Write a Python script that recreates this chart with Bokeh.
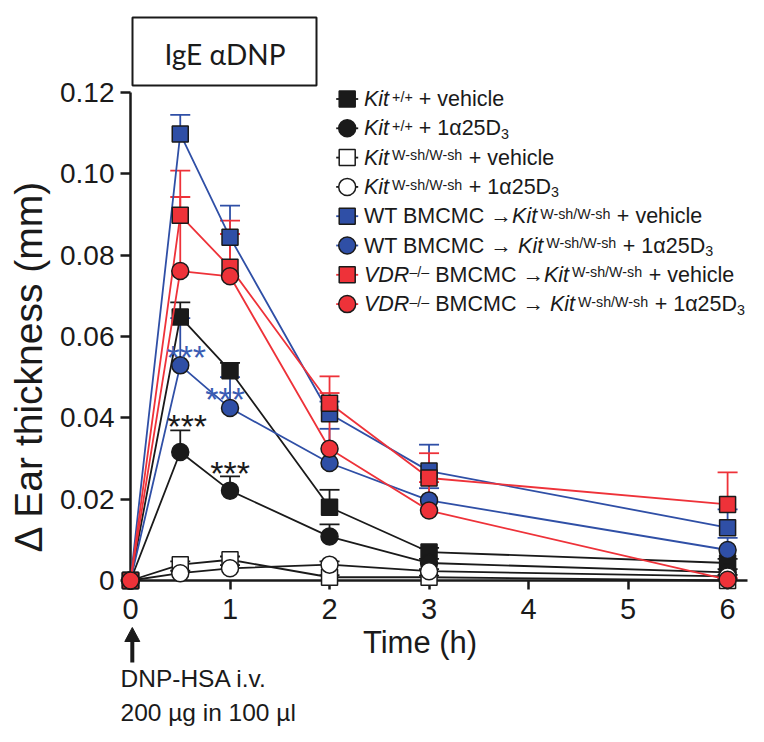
import math
from bokeh.plotting import figure
from bokeh.models import (FixedTicker, Whisker, TeeHead, ColumnDataSource, Range1d)
from bokeh.core.properties import value
from bokeh.embed import file_html
from bokeh.resources import INLINE

# ---------------- data ----------------
time_h = [0, 0.5, 1, 2, 3, 6]

kit_vehicle = [0, 0.0648, 0.0516, 0.0180, 0.0070, 0.0043]
kit_vehicle_sem = [0, 0.0036, 0.0019, 0.0043, 0.0010, 0.0010]
kit_d3 = [0, 0.0316, 0.0221, 0.0108, 0.0043, 0.0020]
kit_d3_sem = [0, 0.0053, 0.0035, 0.0030, 0.0010, 0.0008]
wsh_vehicle = [0, 0.0039, 0.0051, 0.0008, 0.0008, 0.0000]
wsh_vehicle_sem = [0, 0.0008, 0.0008, 0.0005, 0.0004, 0.0004]
wsh_d3 = [0, 0.0018, 0.0030, 0.0039, 0.0023, 0.0010]
wsh_d3_sem = [0, 0.0006, 0.0008, 0.0008, 0.0005, 0.0004]
wt_vehicle = [0, 0.1098, 0.0844, 0.0410, 0.0269, 0.0130]
wt_vehicle_sem = [0, 0.0047, 0.0078, 0.0030, 0.0065, 0.0045]
wt_d3 = [0, 0.0529, 0.0424, 0.0289, 0.0197, 0.0075]
wt_d3_sem = [0, 0.0116, 0.0076, 0.0084, 0.0030, 0.0030]
vdr_vehicle = [0, 0.0898, 0.0770, 0.0436, 0.0252, 0.0187]
vdr_vehicle_sem = [0, 0.0110, 0.0115, 0.0066, 0.0061, 0.0079]
vdr_d3 = [0, 0.0761, 0.0748, 0.0324, 0.0172, 0.0002]
vdr_d3_sem = [0, 0.0182, 0.0104, 0.0137, 0.0070, 0.0005]

x_ticks = [0, 1, 2, 3, 4, 5, 6]
x_tick_labels = ["0", "1", "2", "3", "4", "5", "6"]
y_ticks = [0, 0.02, 0.04, 0.06, 0.08, 0.10, 0.12]
y_tick_labels = ["0", "0.02", "0.04", "0.06", "0.08", "0.10", "0.12"]

# legend texts: (text, italic, kind) kind: n = normal, sup, sub
legend_1 = [("Kit", True, "n"), ("+/+", False, "sup"), (" + vehicle", False, "n")]
legend_2 = [("Kit", True, "n"), ("+/+", False, "sup"), (" + 1α25D", False, "n"), ("3", False, "sub")]
legend_3 = [("Kit", True, "n"), ("W-sh/W-sh", False, "sup"), (" + vehicle", False, "n")]
legend_4 = [("Kit", True, "n"), ("W-sh/W-sh", False, "sup"), (" + 1α25D", False, "n"), ("3", False, "sub")]
legend_5 = [("WT BMCMC →", False, "n"), ("Kit", True, "n"), ("W-sh/W-sh", False, "sup"), (" + vehicle", False, "n")]
legend_6 = [("WT BMCMC → ", False, "n"), ("Kit", True, "n"), ("W-sh/W-sh", False, "sup"),
            (" + 1α25D", False, "n"), ("3", False, "sub")]
legend_7 = [("VDR", True, "n"), ("–/–", False, "sup"), (" BMCMC →", False, "n"), ("Kit", True, "n"),
            ("W-sh/W-sh", False, "sup"), (" + vehicle", False, "n")]
legend_8 = [("VDR", True, "n"), ("–/–", False, "sup"), (" BMCMC → ", False, "n"), ("Kit", True, "n"),
            ("W-sh/W-sh", False, "sup"), (" + 1α25D", False, "n"), ("3", False, "sub")]

title_text = "IgE αDNP"
y_label = "Δ Ear thickness (mm)"
x_label = "Time (h)"
note_1 = "DNP-HSA i.v."
note_2 = "200 µg in 100 µl"
stars_text = "***"

# ---------------- styles ----------------
BLACK = "#1a1a1a"
BLUE = "#2f4fa6"
RED = "#ee3239"
BLUE_STAR = "#3a5cb4"
FONT = "Liberation Sans"

series = [
    dict(v=kit_vehicle, e=kit_vehicle_sem, marker="square", fill=BLACK, line=BLACK, leg=legend_1),
    dict(v=kit_d3, e=kit_d3_sem, marker="circle", fill=BLACK, line=BLACK, leg=legend_2),
    dict(v=wsh_vehicle, e=wsh_vehicle_sem, marker="square", fill="white", line=BLACK, leg=legend_3),
    dict(v=wsh_d3, e=wsh_d3_sem, marker="circle", fill="white", line=BLACK, leg=legend_4),
    dict(v=wt_vehicle, e=wt_vehicle_sem, marker="square", fill=BLUE, line=BLUE, leg=legend_5),
    dict(v=wt_d3, e=wt_d3_sem, marker="circle", fill=BLUE, line=BLUE, leg=legend_6),
    dict(v=vdr_vehicle, e=vdr_vehicle_sem, marker="square", fill=RED, line=RED, leg=legend_7),
    dict(v=vdr_d3, e=vdr_d3_sem, marker="circle", fill=RED, line=RED, leg=legend_8),
]

# ---------------- geometry (pixels of the page) ----------------
FIG_W, FIG_H = 760, 740
B_L, B_T, B_R, B_B = 130, 92, 13, 160
X_MAX, Y_MAX = 6.2, 0.12
FRAME_W = FIG_W - B_L - B_R
FRAME_H = FIG_H - B_T - B_B
FRAME_LEFT = B_L
FRAME_BOTTOM = B_T + FRAME_H


def xd(px):
    return (px - FRAME_LEFT) * X_MAX / FRAME_W


def yd(py):
    return (FRAME_BOTTOM - py) * Y_MAX / FRAME_H


p = figure(width=FIG_W, height=FIG_H, output_backend="svg", toolbar_location=None,
           x_range=Range1d(0, X_MAX), y_range=Range1d(0, Y_MAX),
           min_border_left=B_L, min_border_top=B_T, min_border_right=B_R, min_border_bottom=B_B)
p.outline_line_color = None
p.xgrid.visible = False
p.ygrid.visible = False
p.background_fill_color = "white"
p.border_fill_color = "white"

for ax in (p.xaxis[0], p.yaxis[0]):
    ax.axis_line_width = 2.5
    ax.axis_line_color = BLACK
    ax.major_tick_line_width = 2.5
    ax.major_tick_line_color = BLACK
    ax.major_tick_in = 0
    ax.minor_tick_line_color = None
    ax.major_label_text_font = FONT
    ax.major_label_text_color = BLACK

p.xaxis[0].ticker = FixedTicker(ticks=x_ticks)
p.xaxis[0].major_label_overrides = {t: s for t, s in zip(x_ticks, x_tick_labels)}
p.xaxis[0].major_tick_out = 9
p.xaxis[0].major_label_standoff = 9
p.xaxis[0].major_label_text_font_size = "29px"

p.yaxis[0].ticker = FixedTicker(ticks=y_ticks)
p.yaxis[0].major_label_overrides = {t: s for t, s in zip(y_ticks, y_tick_labels)}
p.yaxis[0].major_tick_out = 10
p.yaxis[0].major_label_standoff = 6
p.yaxis[0].major_label_text_font_size = "28px"

# ---------------- error bars, lines, markers ----------------
for s in series:
    idx = [i for i, e in enumerate(s["e"]) if e > 0]
    src = ColumnDataSource(dict(t=[time_h[i] for i in idx],
                                lo=[s["v"][i] for i in idx],
                                hi=[s["v"][i] + s["e"][i] for i in idx]))
    w = Whisker(source=src, base="t", upper="hi", lower="lo", dimension="height",
                line_color=s["line"], line_width=1.8,
                upper_head=TeeHead(size=20, line_color=s["line"], line_width=1.8),
                lower_head=None)
    p.add_layout(w)

for s in series:
    p.line(time_h, s["v"], line_color=s["line"], line_width=1.8, level="overlay")
    size = 16 if s["marker"] == "square" else 17
    p.scatter(time_h, s["v"], marker=s["marker"], size=size, fill_color=s["fill"],
              line_color=BLACK, line_width=1.5, level="overlay")

# ---------------- significance stars ----------------
star_time = [0.5, 1, 0.5, 1]
star_anchor = [wt_d3[1], wt_d3[2], kit_d3[1] + kit_d3_sem[1], kit_d3[2] + kit_d3_sem[2]]
star_color = [BLUE_STAR, BLUE_STAR, BLACK, BLACK]
star_dx = [6, -5, 7, 0]
star_dy = [-8.5, -9.0, -4.0, -3.5]   # pixels, downward, of the text middle from the anchor
p.text(x=star_time, y=star_anchor, text=[stars_text] * 4, x_offset=star_dx, y_offset=star_dy,
       text_color=star_color, text_font=value(FONT), text_font_size=value("34px"),
       text_align="center", text_baseline="middle", level="overlay")

# ---------------- legend ----------------
CHAR_W = {' ': 278, '+': 584, '/': 278, '-': 333, '–': 556, '→': 1000, '1': 556, '2': 556,
          '3': 556, '5': 556, 'α': 578, 'a': 556, 'c': 500, 'e': 556, 'h': 556, 'i': 222,
          'l': 222, 's': 500, 't': 278, 'v': 500, 'B': 667, 'C': 722, 'D': 722, 'K': 667,
          'M': 833, 'R': 722, 'T': 611, 'V': 667, 'W': 944}
LEG_MAIN, LEG_SMALL = 21.5, 14.3
LEG_X0 = 363.5
LEG_ROW0, LEG_DY = 98.5, 29.3
MARK_X = 346.7


def text_w(txt, size):
    return sum(CHAR_W.get(ch, 556) for ch in txt) * size / 1000.0


lx, ly, lt, lsize, lstyle = [], [], [], [], []
for r, s in enumerate(series):
    cy = LEG_ROW0 + r * LEG_DY
    p.segment(x0=[xd(MARK_X - 11)], y0=[yd(cy)], x1=[xd(MARK_X + 11)], y1=[yd(cy)],
              line_color=s["line"], line_width=1.8, level="overlay")
    size = 16 if s["marker"] == "square" else 17
    p.scatter([xd(MARK_X)], [yd(cy)], marker=s["marker"], size=size, fill_color=s["fill"],
              line_color=BLACK, line_width=1.5, level="overlay")
    x = LEG_X0
    pieces = s["leg"]
    for k, (txt, ital, kind) in enumerate(pieces):
        fs = LEG_MAIN if kind == "n" else LEG_SMALL
        my = cy - 2.4 if kind == "sup" else (cy + 5.5 if kind == "sub" else cy)
        lead = len(txt) - len(txt.lstrip(" "))
        lx.append(xd(x + text_w(" " * lead, fs)))
        ly.append(yd(my))
        lt.append(txt.strip(" "))
        lsize.append(f"{fs}px")
        lstyle.append("italic" if ital else "normal")
        x += text_w(txt, fs)
        if ital and k + 1 < len(pieces) and pieces[k + 1][2] == "sup" and txt.endswith("t"):
            x += 3

p.text(x="x", y="y", text="text", text_font_size="size", text_font_style="style",
       source=ColumnDataSource(dict(x=lx, y=ly, text=lt, size=lsize, style=lstyle)),
       text_font=value(FONT), text_color=BLACK, text_align="left", text_baseline="middle",
       level="overlay")

# ---------------- titles / notes ----------------
p.quad(left=[xd(132)], right=[xd(316)], top=[yd(17)], bottom=[yd(85)],
       fill_color=None, line_color=BLACK, line_width=2, level="overlay")
p.text(x=[xd(224.5)], y=[yd(53)], text=[title_text], text_font=value("Lato"),
       text_font_size=value("28px"), text_color=BLACK, text_align="center",
       text_baseline="middle", level="overlay")
p.text(x=[xd(28)], y=[yd(365.5)], text=[y_label], angle=math.pi / 2, text_font=value(FONT),
       text_font_size=value("39px"), text_color=BLACK, text_align="center",
       text_baseline="middle", level="overlay")
p.text(x=[xd(419.5)], y=[yd(641.5)], text=[x_label], text_font=value(FONT),
       text_font_size=value("31px"), text_color=BLACK, text_align="center",
       text_baseline="middle", level="overlay")
# arrow marking the challenge at t = 0 (shaft + head)
p.quad(left=[xd(129.8)], right=[xd(133.8)], top=[yd(640)], bottom=[yd(662)],
       fill_color=BLACK, line_color=None, level="overlay")
p.patch(x=[xd(124.3), xd(131.8), xd(139.3)], y=[yd(641), yd(627), yd(641)],
        fill_color=BLACK, line_color=BLACK, line_width=1, level="overlay")
p.text(x=[xd(120), xd(120)], y=[yd(678), yd(711.7)], text=[note_1, note_2], text_font=value(FONT),
       text_font_size=value("24.5px"), text_color=BLACK, text_align="left",
       text_baseline="middle", level="overlay")

open("out.html", "w").write(file_html(p, INLINE))
